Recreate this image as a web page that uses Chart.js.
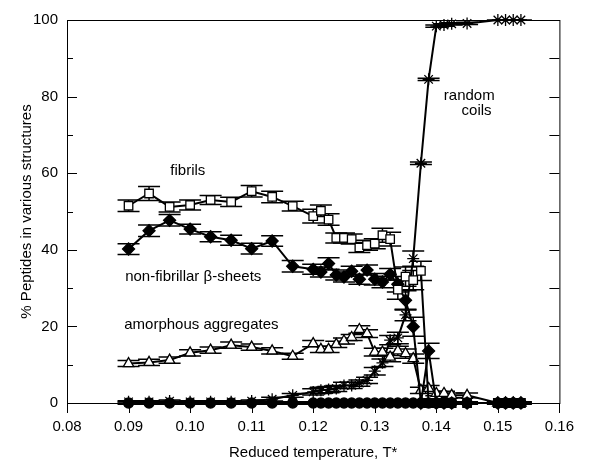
<!DOCTYPE html>
<html>
<head>
<meta charset="utf-8">
<script src="https://cdn.jsdelivr.net/npm/chart.js@4.4.1/dist/chart.umd.min.js"></script>
<style>
  html, body { margin: 0; padding: 0; background: #fff; }
  #wrap { width: 589px; height: 464px; position: relative; }
</style>
</head>
<body>
<div id="wrap"><canvas id="chart"></canvas></div>
<script>
// Reduced temperature T* of every simulation point
const temperatures = [0.09, 0.09333, 0.09667, 0.1, 0.10333, 0.10667, 0.11, 0.11333, 0.11667,
    0.12, 0.12125, 0.1225, 0.12375, 0.125, 0.12625, 0.1275, 0.12875, 0.13, 0.13125, 0.1325,
    0.13375, 0.135, 0.13625, 0.1375, 0.13875, 0.14, 0.14125, 0.1425, 0.145,
    0.15, 0.15125, 0.1525, 0.15375];

// % peptides per structure
const fibrils = [51.5, 54.7, 51.2, 51.7, 53.0, 52.5, 55.3, 53.8, 51.4,
    48.8, 50.2, 47.9, 43.1, 43.1, 42.8, 40.6, 41.2, 41.6, 43.8, 42.8,
    29.6, 33.0, 32.1, 34.5, 0, 0, 0, 0, 0, 0, 0, 0, 0];
const fibrilsErr = [1.5, 1.8, 1.3, 1.3, 1.2, 1.2, 1.5, 1.5, 1.3,
    1.8, 1.5, 1.5, 1.3, 1.3, 1.3, 1.3, 1.3, 1.3, 1.8, 1.8,
    2.5, 2.5, 2.5, 2.5, 0.5, 0, 0, 0, 0, 0, 0, 0, 0];

const betaSheets = [40.2, 45.0, 47.7, 45.4, 43.4, 42.5, 40.3, 42.3, 35.7,
    34.9, 34.2, 36.4, 33.4, 32.9, 34.4, 32.3, 34.7, 32.3, 31.6, 33.6,
    31.0, 26.8, 19.9, 0, 13.6, 0, 0, 0, 0, 0, 0, 0, 0];
const betaSheetsErr = [1.4, 1.5, 1.5, 1.3, 1.3, 1.3, 1.4, 1.4, 1.5,
    1.3, 1.3, 1.5, 1.3, 1.3, 1.3, 1.3, 1.3, 1.5, 1.5, 1.5,
    2.0, 2.5, 2.5, 0.5, 2.0, 0.5, 0, 0, 0, 0, 0, 0, 0];

const amorphous = [10.3, 10.6, 11.2, 13.1, 13.8, 15.1, 14.6, 13.6, 12.2,
    15.5, 14.0, 14.0, 15.3, 16.2, 17.1, 19.2, 18.1, 13.3, 13.3, 12.0,
    13.6, 12.9, 11.6, 3.3, 3.8, 2.5, 2.5, 2.0, 2.0, 0, 0, 0, 0];
const amorphousErr = [0.8, 0.8, 0.8, 0.8, 0.8, 0.8, 0.8, 0.8, 0.8,
    0.8, 0.8, 0.8, 0.8, 0.8, 0.8, 1.0, 1.0, 1.0, 1.0, 1.2,
    1.2, 1.2, 1.2, 0.8, 0.8, 0.6, 0.6, 0.6, 0.6, 0, 0, 0, 0];

const randomCoils = [0.3, 0.3, 0.5, 0.3, 0.3, 0.3, 0.5, 1.0, 2.0,
    2.9, 3.3, 3.5, 3.8, 4.6, 4.6, 5.2, 5.9, 8.3, 10.5, 16.4,
    17.0, 23.0, 37.7, 62.6, 84.5, 98.4, 98.7, 99.0, 99.1, 100, 100, 100, 100];
const randomCoilsErr = [0.3, 0.3, 0.3, 0.3, 0.3, 0.3, 0.3, 0.5, 0.5,
    0.8, 0.8, 0.8, 0.8, 0.8, 0.8, 0.8, 0.8, 1.0, 1.0, 1.2,
    1.5, 1.5, 2.0, 0.3, 0.3, 0.3, 0.3, 0.3, 0.3, 0, 0, 0, 0];

// unlabelled series lying on zero (filled circles)
const otherStructures = temperatures.map(() => 0);
const otherStructuresErr = temperatures.map(() => 0.3);

const xTicks = [0.08, 0.09, 0.10, 0.11, 0.12, 0.13, 0.14, 0.15, 0.16];
const yTicks = [0, 20, 40, 60, 80, 100];
const yMinorTicks = [10, 30, 50, 70, 90];

const FONT = '"Liberation Sans", Arial, Helvetica, sans-serif';

const toPoints = (values) => temperatures.map((t, i) => ({ x: t, y: values[i] }));

const makeSeries = (values, errors, style) => ({
    data: toPoints(values),
    errors: errors,
    showLine: true,
    borderColor: '#000',
    borderWidth: 2,
    pointBorderColor: '#000',
    pointBorderWidth: 1.3,
    pointHoverRadius: 0,
    clip: false,
    ...style
});

// Vertical error bars with caps, drawn under the markers
const errorBars = {
    id: 'errorBars',
    beforeDatasetsDraw: (chart) => {
        const { ctx, scales: { x, y } } = chart;
        ctx.save();
        ctx.strokeStyle = '#000';
        ctx.lineWidth = 1.5;
        chart.data.datasets.forEach((ds) => {
            ds.data.forEach((p, i) => {
                const e = ds.errors[i];
                const px = x.getPixelForValue(p.x);
                const top = y.getPixelForValue(p.y + e);
                const bot = y.getPixelForValue(p.y - e);
                ctx.beginPath();
                ctx.moveTo(px, top); ctx.lineTo(px, bot);
                ctx.moveTo(px - 11, top); ctx.lineTo(px + 11, top);
                ctx.moveTo(px - 11, bot); ctx.lineTo(px + 11, bot);
                ctx.stroke();
            });
        });
        ctx.restore();
    }
};

// Box, tick marks and the in-plot labels
const frame = {
    id: 'frame',
    afterDraw: (chart) => {
        const { ctx, chartArea: a, scales: { x, y } } = chart;
        ctx.save();
        ctx.strokeStyle = '#000';
        ctx.lineWidth = 1;
        ctx.strokeRect(a.left + 0.5, a.top + 0.5, a.right - a.left, a.bottom - a.top);
        ctx.beginPath();
        yTicks.concat(yMinorTicks).forEach((v) => {
            const py = Math.round(y.getPixelForValue(v)) + 0.5;
            const len = yTicks.includes(v) ? 10 : 6;
            ctx.moveTo(a.left, py); ctx.lineTo(a.left + len, py);
            ctx.moveTo(a.right, py); ctx.lineTo(a.right - 10, py);
        });
        xTicks.forEach((v) => {
            const px = Math.round(x.getPixelForValue(v)) + 0.5;
            ctx.moveTo(px, a.bottom); ctx.lineTo(px, a.bottom + 10);
        });
        ctx.stroke();

        ctx.fillStyle = '#000';
        ctx.font = '15px ' + FONT;
        ctx.textAlign = 'center';
        ctx.textBaseline = 'middle';
        const label = (text, t, v) => ctx.fillText(text, x.getPixelForValue(t), y.getPixelForValue(v));
        label('fibrils', 0.09963, 60.5);
        label('non-fibrillar \u03B2-sheets', 0.10051, 32.9);
        label('amorphous aggregates', 0.10183, 20.3);
        label('random', 0.14535, 80.1);
        label('coils', 0.14655, 76.3);
        ctx.restore();
    }
};

const config = {
    type: 'scatter',
    data: {
        datasets: [
            makeSeries(otherStructures, otherStructuresErr, { pointStyle: 'circle', pointRadius: 5, pointBackgroundColor: '#000' }),
            makeSeries(fibrils, fibrilsErr, { pointStyle: 'rect', pointRadius: 6, pointBackgroundColor: '#fff' }),
            makeSeries(betaSheets, betaSheetsErr, { pointStyle: 'rectRot', pointRadius: 6, pointBackgroundColor: '#000' }),
            makeSeries(amorphous, amorphousErr, { pointStyle: 'triangle', pointRadius: 6, pointBackgroundColor: '#fff' }),
            makeSeries(randomCoils, randomCoilsErr, { pointStyle: 'star', pointRadius: 6, pointBackgroundColor: '#000' })
        ]
    },
    options: {
        responsive: true,
        maintainAspectRatio: false,
        animation: false,
        layout: { padding: { top: 20, right: 24, left: 0, bottom: 0 } },
        plugins: {
            legend: { display: false },
            tooltip: { enabled: false }
        },
        scales: {
            x: {
                type: 'linear',
                min: 0.08,
                max: 0.16,
                afterBuildTicks: (scale) => { scale.ticks = xTicks.map(v => ({ value: v })); },
                afterFit: (scale) => { scale.height = 61; },
                grid: { display: false, drawTicks: false },
                border: { display: false },
                ticks: {
                    padding: 15,
                    color: '#000',
                    font: { family: FONT, size: 15 },
                    maxRotation: 0,
                    autoSkip: false,
                    callback: (v) => Number(v).toFixed(2)
                },
                title: {
                    display: true,
                    text: 'Reduced temperature, T*',
                    color: '#000',
                    font: { family: FONT, size: 15 },
                    padding: { top: 0, bottom: 2 }
                }
            },
            y: {
                type: 'linear',
                min: 0,
                max: 100,
                afterBuildTicks: (scale) => { scale.ticks = yTicks.map(v => ({ value: v })); },
                afterFit: (scale) => { scale.width = 67; },
                grid: { display: false, drawTicks: false },
                border: { display: false },
                ticks: {
                    padding: 9,
                    color: '#000',
                    font: { family: FONT, size: 15 }
                },
                title: {
                    display: true,
                    text: '% Peptides in various structures',
                    color: '#000',
                    font: { family: FONT, size: 15 },
                    padding: { top: 18, bottom: 0 }
                }
            }
        }
    },
    plugins: [errorBars, frame]
};

new Chart(document.getElementById('chart'), config);
</script>
</body>
</html>
